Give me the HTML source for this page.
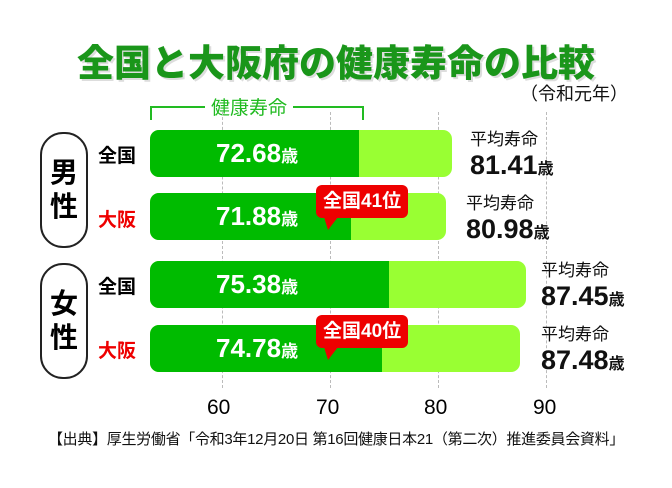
<!DOCTYPE html>
<html><head><meta charset="utf-8"><style>
body{margin:0;width:672px;height:488px;background:#fff;position:relative;overflow:hidden;font-family:"Liberation Sans","Noto Sans CJK JP",sans-serif}
.a{position:absolute;white-space:nowrap}
.bar{position:absolute;height:47px;border-radius:9px;background:#99ff33;overflow:hidden}
.bar .d{position:absolute;left:0;top:0;bottom:0;background:#00bb00}
.bar .t{position:absolute;left:0;top:0;line-height:47px;color:#fff;font-weight:bold;font-size:26px}
.bar .t small{font-size:17px}
.g{position:absolute;top:112px;height:276px;border-left:1.5px dashed #bbb}
.lab{font-weight:bold;font-size:19px}
.avg{font-size:17px;color:#111;line-height:20px}
.avg b{font-size:27px;line-height:30px}
.avg b small{font-size:16px}
.bub{position:absolute;background:#ee0000;color:#fff;font-weight:bold;font-size:19px;padding:1px 7px;border-radius:6px;line-height:31px}
.bub:after{content:"";position:absolute;left:8px;bottom:-12px;border-left:4px solid transparent;border-right:10px solid transparent;border-top:13px solid #ee0000}
.pill{position:absolute;width:44px;height:112px;border:2px solid #222;border-radius:23px;font-weight:bold;font-size:28px;text-align:center;line-height:34px;display:flex;align-items:center;justify-content:center}
</style></head><body>
<div class="a" style="left:0;width:672px;top:33px;text-align:center;font-size:37px;font-weight:900;color:#1a961a;text-shadow:2px 2px 0 #ddd">全国と大阪府の健康寿命の比較</div>
<div class="a" style="left:520px;top:80px;font-size:18px;color:#111">（令和元年）</div>
<div class="a" style="left:150px;top:106px;width:210px;height:12px;border-top:2px solid #22bb22;border-left:2px solid #22bb22;border-right:2px solid #22bb22"></div>
<div class="a" style="left:205px;top:93px;background:#fff;padding:0 6px;font-size:19px;color:#22bb22">健康寿命</div>
<div class="g" style="left:222px"></div><div class="g" style="left:330px"></div><div class="g" style="left:438px"></div><div class="g" style="left:546px"></div>
<div class="pill" style="left:40px;top:132px">男<br>性</div>
<div class="pill" style="left:40px;top:263px">女<br>性</div>
<div class="a lab" style="left:98px;top:141px;color:#000">全国</div>
<div class="a lab" style="left:98px;top:205px;color:#ee0000">大阪</div>
<div class="a lab" style="left:98px;top:272px;color:#000">全国</div>
<div class="a lab" style="left:98px;top:336px;color:#ee0000">大阪</div>
<div class="bar" style="left:150px;top:130px;width:302px"><div class="d" style="width:209px"></div><div class="t" style="left:66px">72.68<small>歳</small></div></div>
<div class="bar" style="left:150px;top:193px;width:296px"><div class="d" style="width:201px"></div><div class="t" style="left:66px">71.88<small>歳</small></div></div>
<div class="bar" style="left:150px;top:261px;width:376px"><div class="d" style="width:239px"></div><div class="t" style="left:66px">75.38<small>歳</small></div></div>
<div class="bar" style="left:150px;top:325px;width:370px"><div class="d" style="width:232px"></div><div class="t" style="left:66px">74.78<small>歳</small></div></div>
<div class="bub" style="left:316px;top:185px">全国41位</div>
<div class="bub" style="left:316px;top:315px">全国40位</div>
<div class="a avg" style="left:470px;top:130px">平均寿命<br><b>81.41<small>歳</small></b></div>
<div class="a avg" style="left:466px;top:194px">平均寿命<br><b>80.98<small>歳</small></b></div>
<div class="a avg" style="left:541px;top:261px">平均寿命<br><b>87.45<small>歳</small></b></div>
<div class="a avg" style="left:541px;top:325px">平均寿命<br><b>87.48<small>歳</small></b></div>
<div class="a" style="left:207px;top:396px;font-size:21px">60</div>
<div class="a" style="left:316px;top:396px;font-size:21px">70</div>
<div class="a" style="left:424px;top:396px;font-size:21px">80</div>
<div class="a" style="left:533px;top:396px;font-size:21px">90</div>
<div class="a" style="left:0;width:672px;text-align:center;top:428px;font-size:15px;color:#111;letter-spacing:-0.3px">【出典】厚生労働省「令和3年12月20日 第16回健康日本21（第二次）推進委員会資料」</div>
</body></html>
